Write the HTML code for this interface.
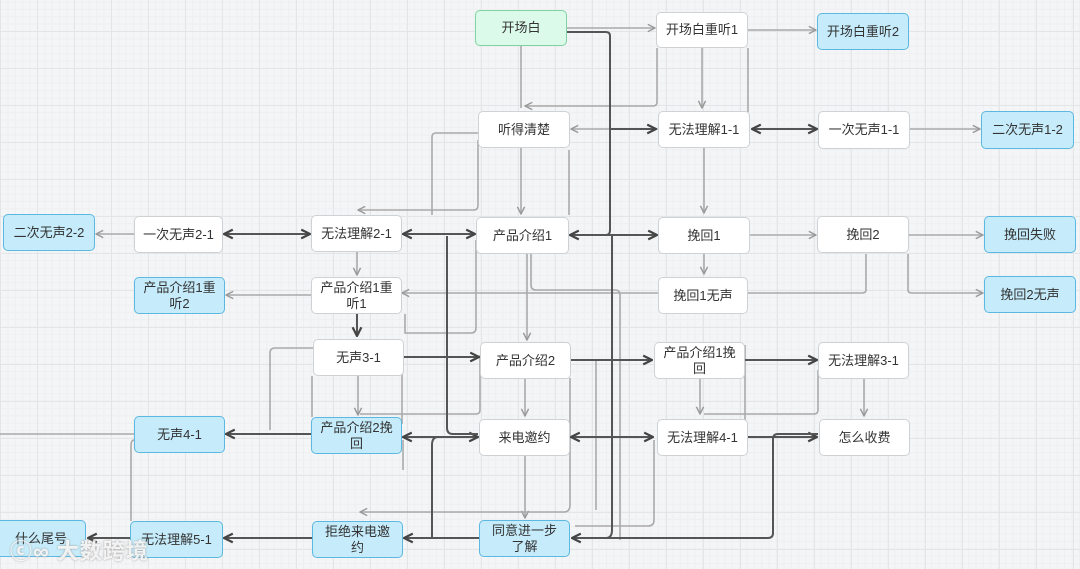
<!DOCTYPE html>
<html><head><meta charset="utf-8"><style>
html,body{margin:0;padding:0}
body{width:1080px;height:569px;overflow:hidden;position:relative;background-color:#f4f5f6;
background-image:linear-gradient(#e3e5e7 1px,transparent 1px),linear-gradient(90deg,#e3e5e7 1px,transparent 1px),linear-gradient(#eeeff1 1px,transparent 1px),linear-gradient(90deg,#eeeff1 1px,transparent 1px);
background-size:37px 37px,37px 37px,7.4px 7.4px,7.4px 7.4px;background-position:0 -6px,0 0,0 -6px,0 0;
font-family:"Liberation Sans","Noto Sans CJK SC",sans-serif}
.n{position:absolute;box-sizing:border-box;background:#fff;border:1px solid #cfd2d5;border-radius:5px;display:flex;align-items:center;justify-content:center;text-align:center;font-size:13px;color:#333;line-height:16px;padding:0 4px}
.b{background:#c6ecfb;border-color:#5cb8e0}
.g{background:#dcfaea;border-color:#7fd3a3}
svg{position:absolute;left:0;top:0}
.wm{position:absolute;left:10px;top:534px;font-size:22px;color:rgba(255,255,255,.85);font-weight:bold;letter-spacing:1px;text-shadow:0 0 2px #999}
</style></head><body>
<svg width="1080" height="569" fill="none" stroke-linejoin="round">
<defs>
<marker id="a" viewBox="0 0 10 10" refX="9" refY="5" markerWidth="9" markerHeight="9" orient="auto-start-reverse" markerUnits="userSpaceOnUse"><path d="M1 1L9 5L1 9" stroke="#999" stroke-width="1.6" fill="none"/></marker>
<marker id="d" viewBox="0 0 10 10" refX="9" refY="5" markerWidth="11" markerHeight="11" orient="auto-start-reverse" markerUnits="userSpaceOnUse"><path d="M1 1L9 5L1 9" stroke="#444" stroke-width="2" fill="none"/></marker>
</defs>
<g stroke="#aaa" stroke-width="1.6">
<path d="M567 28H655" marker-end="url(#a)"/>
<path d="M748 30H816" marker-end="url(#a)"/>
<path d="M521 46V108" />
<path d="M657 48V102Q657 106 653 106H525" marker-end="url(#a)"/>
<path d="M702 48V108" marker-end="url(#a)"/>
<path d="M748 48V112"/>
<path d="M658 129H571" marker-end="url(#a)"/>
<path d="M910 129H980" marker-end="url(#a)"/>
<path d="M704 148V213" marker-end="url(#a)"/>
<path d="M750 235H816" marker-end="url(#a)"/>
<path d="M909 235H983" marker-end="url(#a)"/>
<path d="M704 254V274" marker-end="url(#a)"/>
<path d="M866 254V290Q866 293 862 293H748"/>
<path d="M908 254V290Q908 293 912 293H983" marker-end="url(#a)"/>
<path d="M478 133H436Q432 133 432 137V215"/>
<path d="M478 140V205Q478 210 474 210H358" marker-end="url(#a)"/>
<path d="M521 148V214" marker-end="url(#a)"/>
<path d="M134 234H96" marker-end="url(#a)"/>
<path d="M357 252V275" marker-end="url(#a)"/>
<path d="M311 295H226" marker-end="url(#a)"/>
<path d="M658 293H402" marker-end="url(#a)"/>
<path d="M527 254V340" marker-end="url(#a)"/>
<path d="M531 254V285Q531 290 536 290H615Q620 290 620 295V540"/>
<path d="M476 240V328Q476 333 471 333H405V314"/>
<path d="M864 378V416" marker-end="url(#a)"/>
<path d="M700 378V414" marker-end="url(#a)"/>
<path d="M818 370V410Q818 414 814 414H704"/>
<path d="M525 378V416" marker-end="url(#a)"/>
<path d="M358 376V415" marker-end="url(#a)"/>
<path d="M313 348H275Q270 348 270 353V430"/>
<path d="M480 355V410Q480 414 476 414H360"/>
<path d="M525 456V518" marker-end="url(#a)"/>
<path d="M570 378V505Q570 512 564 512H360" marker-end="url(#a)"/>
<path d="M654 440V520Q654 526 648 526H575"/>
<path d="M596 360V510"/>
<path d="M0 434H134"/>
<path d="M134 440Q131 440 131 446V521"/>
<path d="M403 357H470"/>
<path d="M403 440V470"/>
<path d="M312 376V417"/>
<path d="M402 424V360"/>
<path d="M745 345V420"/>
<path d="M569 150V215"/>
</g>
<g stroke="#555" stroke-width="2">
<path d="M567 32H606Q610 32 610 36V230Q610 235 606 235"/>
<path d="M610 129H656" marker-end="url(#d)"/>
<path d="M570 235H657" marker-start="url(#d)" marker-end="url(#d)"/>
<path d="M752 129H817" marker-start="url(#d)" marker-end="url(#d)"/>
<path d="M224 234H310" marker-start="url(#d)" marker-end="url(#d)"/>
<path d="M403 234H475" marker-start="url(#d)" marker-end="url(#d)"/>
<path d="M357 314V336" marker-end="url(#d)"/>
<path d="M403 357H479" marker-end="url(#d)"/>
<path d="M571 360H652" marker-end="url(#d)"/>
<path d="M745 360H817" marker-end="url(#d)"/>
<path d="M311 434H226" marker-end="url(#d)"/>
<path d="M403 437H478" marker-start="url(#d)" marker-end="url(#d)"/>
<path d="M571 437H653" marker-start="url(#d)" marker-end="url(#d)"/>
<path d="M745 437H817" marker-end="url(#d)"/>
<path d="M818 434H778Q773 434 773 439V533Q773 538 768 538H572" marker-end="url(#d)"/>
<path d="M479 538H404" marker-end="url(#d)"/>
<path d="M312 538H224" marker-end="url(#d)"/>
<path d="M130 538H88" marker-end="url(#d)"/>
<path d="M447 236V428Q447 434 453 434H478"/>
<path d="M612 235V530Q612 538 606 538"/>
<path d="M432 538V445Q432 437 438 437"/>
</g>
</svg>
<div class="n g" style="left:475px;top:10px;width:92px;height:36px">开场白</div>
<div class="n" style="left:656px;top:12px;width:92px;height:36px">开场白重听1</div>
<div class="n b" style="left:817px;top:13px;width:92px;height:37px">开场白重听2</div>
<div class="n" style="left:478px;top:111px;width:92px;height:37px">听得清楚</div>
<div class="n" style="left:658px;top:111px;width:92px;height:37px">无法理解1-1</div>
<div class="n" style="left:818px;top:111px;width:92px;height:38px">一次无声1-1</div>
<div class="n b" style="left:981px;top:111px;width:93px;height:38px">二次无声1-2</div>
<div class="n b" style="left:3px;top:214px;width:92px;height:37px">二次无声2-2</div>
<div class="n" style="left:134px;top:216px;width:89px;height:37px">一次无声2-1</div>
<div class="n" style="left:311px;top:215px;width:91px;height:37px">无法理解2-1</div>
<div class="n" style="left:476px;top:217px;width:93px;height:37px">产品介绍1</div>
<div class="n" style="left:658px;top:217px;width:92px;height:37px">挽回1</div>
<div class="n" style="left:817px;top:216px;width:92px;height:37px">挽回2</div>
<div class="n b" style="left:984px;top:216px;width:92px;height:37px">挽回失败</div>
<div class="n b" style="left:134px;top:277px;width:91px;height:37px">产品介绍1重<br>听2</div>
<div class="n" style="left:311px;top:277px;width:91px;height:37px">产品介绍1重<br>听1</div>
<div class="n" style="left:658px;top:277px;width:90px;height:37px">挽回1无声</div>
<div class="n b" style="left:984px;top:276px;width:92px;height:37px">挽回2无声</div>
<div class="n" style="left:313px;top:339px;width:91px;height:37px">无声3-1</div>
<div class="n" style="left:480px;top:342px;width:91px;height:37px">产品介绍2</div>
<div class="n" style="left:654px;top:342px;width:91px;height:37px">产品介绍1挽<br>回</div>
<div class="n" style="left:818px;top:342px;width:91px;height:37px">无法理解3-1</div>
<div class="n b" style="left:134px;top:416px;width:91px;height:37px">无声4-1</div>
<div class="n b" style="left:311px;top:417px;width:91px;height:37px">产品介绍2挽<br>回</div>
<div class="n" style="left:479px;top:419px;width:91px;height:37px">来电邀约</div>
<div class="n" style="left:657px;top:419px;width:91px;height:37px">无法理解4-1</div>
<div class="n" style="left:819px;top:419px;width:91px;height:37px">怎么收费</div>
<div class="n b" style="left:-4px;top:520px;width:90px;height:37px">什么尾号</div>
<div class="n b" style="left:130px;top:521px;width:93px;height:37px">无法理解5-1</div>
<div class="n b" style="left:312px;top:521px;width:91px;height:37px">拒绝来电邀<br>约</div>
<div class="n b" style="left:479px;top:520px;width:91px;height:37px">同意进一步<br>了解</div>
<div class="wm">ⓒ∞ 大数跨境</div>
</body></html>
